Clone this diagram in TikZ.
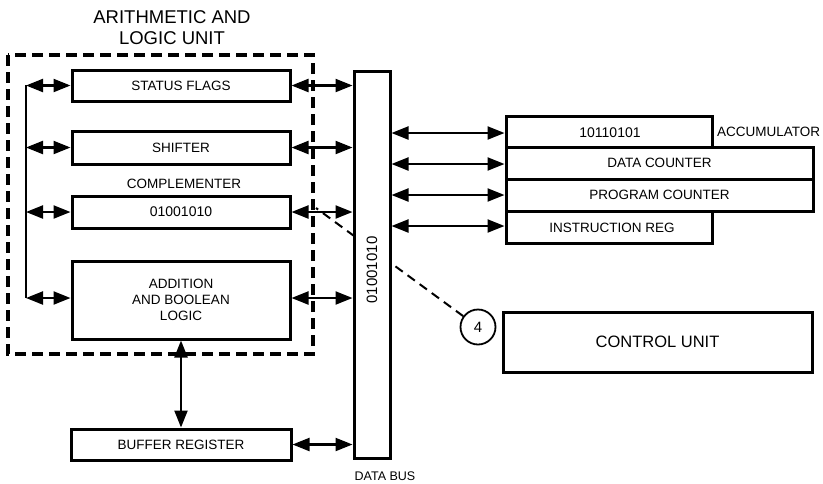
\documentclass[tikz,border=0pt]{standalone}
\usepackage{fontspec}
\setmainfont{Liberation Sans}
\usetikzlibrary{arrows.meta}
\begin{document}
\begin{tikzpicture}[x=1pt,y=-1pt,
  blk/.style={draw, line width=3pt, rectangle, inner sep=0pt, font=\fontsize{13.5}{15}\selectfont, align=center},
  dbl/.style={line width=2.2pt, {Triangle[length=17pt,width=13pt]}-{Triangle[length=17pt,width=13pt]}},
  lbl/.style={font=\fontsize{13.5}{15}\selectfont, inner sep=0pt}
]
\useasboundingbox (0,0) rectangle (823,483);
% dashed ALU boundary
\draw[line width=3.5pt, dash pattern=on 11pt off 6pt] (8,55) rectangle (313,354);
\node[font=\fontsize{18.5}{21}\selectfont, align=center, inner sep=0pt] (alut) at (172,28) {ARITHMETIC AND\\LOGIC UNIT};

% ALU blocks
\node[blk, minimum width=218pt, minimum height=31pt] (status) at (181,85.5) {STATUS FLAGS};
\node[blk, minimum width=218pt, minimum height=33pt] (shift) at (181,147.5) {SHIFTER};
\node[blk, minimum width=218pt, minimum height=32pt, font=\fontsize{14}{15}\selectfont] (comp) at (181,212) {01001010};
\node[lbl] (compl) at (184,184) {COMPLEMENTER};
\node[blk, minimum width=218pt, minimum height=78pt, font=\fontsize{13.5}{16}\selectfont] (add) at (181,300) {ADDITION\\AND BOOLEAN\\LOGIC};
\node[blk, minimum width=220pt, minimum height=31pt] (buf) at (181,444.5) {BUFFER REGISTER};

% dashed line from circle 4 to complementer (behind bus)
\node[draw, circle, line width=1.8pt, minimum size=35pt, inner sep=0pt, font=\fontsize{15}{16}\selectfont] (four) at (478,327) {4};
\coordinate (ctip) at (316,208);
\draw[line width=2pt, dash pattern=on 9pt off 6pt] (four) -- (ctip);

% data bus
\node[blk, fill=white, minimum width=36pt, minimum height=387pt] (bus) at (372,264.5) {};
\node[lbl, rotate=90, font=\fontsize{15}{16}\selectfont] (bustext) at (372,270) {01001010};
\node[font=\fontsize{12.5}{14}\selectfont, inner sep=0pt] (busl) at (385,476) {DATA BUS};

% registers
\node[blk, minimum width=206pt, minimum height=31pt] (acc) at (609,131.5) {};
\node[lbl, font=\fontsize{14}{15}\selectfont] at (610,133) {10110101};
\node[lbl, anchor=west] (accl) at (717,132) {ACCUMULATOR};
\node[blk, minimum width=307pt, minimum height=32pt] (dc) at (659.5,163) {DATA COUNTER};
\node[blk, minimum width=307pt, minimum height=32pt] (pc) at (659.5,195) {PROGRAM COUNTER};
\node[blk, minimum width=206pt, minimum height=32pt] (ir) at (609,227) {};
\node[lbl] at (612,228) {INSTRUCTION REG};

% control unit
\node[blk, minimum width=309pt, minimum height=60pt, font=\fontsize{16.5}{18}\selectfont] (cu) at (657.5,342) {CONTROL UNIT};

% left bus line
\coordinate (lt) at (26,85);
\coordinate (lb) at (26,298);
\draw[line width=2.2pt] (lt) -- (lb);
\draw[dbl] (status.west -| lt) -- (status.west);
\draw[dbl] (shift.west -| lt) -- (shift.west);
\draw[dbl] (comp.west -| lt) -- (comp.west);
\draw[dbl] (lb) -- (add.west |- lb);

% ALU to bus
\draw[dbl] (status.east) -- (status.east -| bus.west);
\draw[dbl] (shift.east) -- (shift.east -| bus.west);
\draw[dbl] (comp.east) -- (comp.east -| bus.west);
\draw[dbl] (add.east |- lb) -- (bus.west |- lb);
\draw[dbl] (buf.east) -- (buf.east -| bus.west);

% addition to buffer
\draw[dbl] (add.south) -- (buf.north);

% bus to registers
\draw[dbl] (bus.east |- 0,133) -- (acc.west |- 0,133);
\draw[dbl] (bus.east |- 0,164) -- (dc.west |- 0,164);
\draw[dbl] (bus.east |- 0,195) -- (pc.west |- 0,195);
\draw[dbl] (bus.east |- 0,226) -- (ir.west |- 0,226);
\end{tikzpicture}
\end{document}
